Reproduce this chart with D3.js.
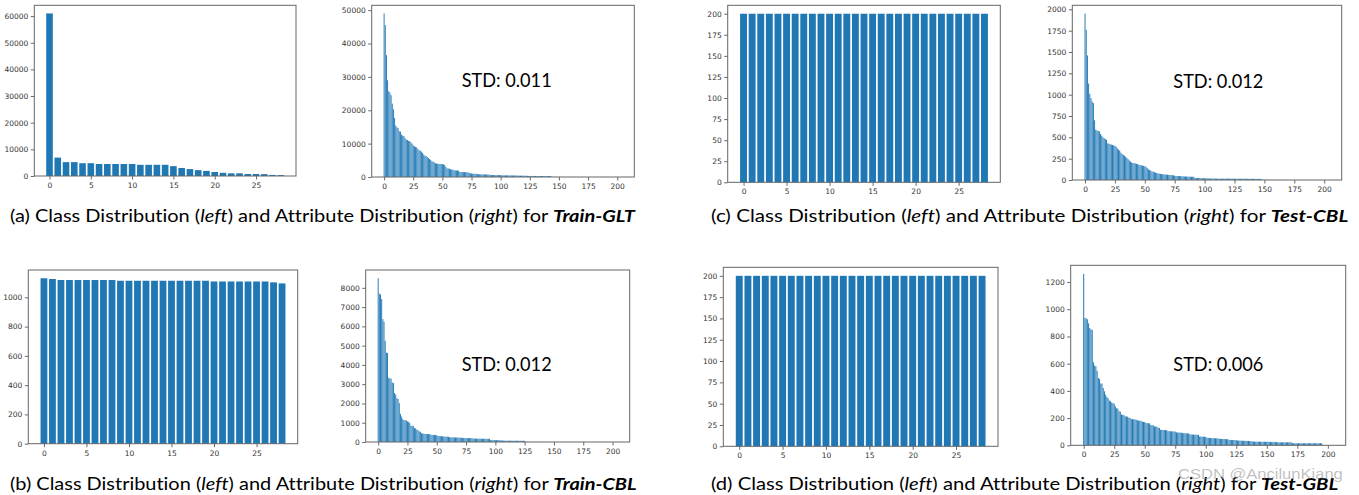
<!DOCTYPE html>
<html><head><meta charset="utf-8">
<script src="https://cdn.jsdelivr.net/npm/d3@7"></script>
<style>body{margin:0;background:#fff}svg{display:block}text{font-variant-ligatures:none;font-feature-settings:"liga" 0,"clig" 0}</style>
</head><body>
<svg id="chart" width="1359" height="495"></svg>
<script>
// ---------------- DATA ----------------
const classTrainGLT = [61000, 6900, 5200, 5200, 4800, 4800, 4500, 4500, 4500, 4500,
  4500, 4200, 4200, 4200, 4200, 3700, 3000, 2600, 2200, 1900,
  1500, 1200, 1000, 1000, 750, 750, 700, 400, 350];
const classTrainCBL = [1130, 1125, 1118, 1118, 1118, 1118, 1118, 1118, 1118, 1113,
  1113, 1113, 1113, 1113, 1113, 1113, 1113, 1113, 1113, 1113,
  1108, 1108, 1108, 1108, 1108, 1108, 1108, 1102, 1095];
const classTestCBL = [200, 200, 200, 200, 200, 200, 200, 200, 200, 200,
  200, 200, 200, 200, 200, 200, 200, 200, 200, 200,
  200, 200, 200, 200, 200, 200, 200, 200, 200];
const classTestGBL = [200, 200, 200, 200, 200, 200, 200, 200, 200, 200,
  200, 200, 200, 200, 200, 200, 200, 200, 200, 200,
  200, 200, 200, 200, 200, 200, 200, 200, 200];

const attrTrainGLT = [
  49000, 45500, 36500, 29000, 25700, 25300, 24500, 22000, 20300, 17700,
  15400, 14900, 14700, 13700, 13600, 12700, 12400, 12300, 11700, 11200,
  11100, 10800, 10700, 10400, 10000, 9500, 9200, 9000, 8900, 8400,
  8000, 7900, 7600, 7200, 6700, 6400, 6300, 6000, 5700, 5400,
  5100, 4700, 4600, 4400, 4100, 4050, 4000, 3900, 3900, 3850,
  3850, 3800, 3600, 3100, 2600, 2550, 2500, 2300, 2250, 2200,
  2000, 2000, 1950, 1950, 1900, 1500, 1500, 1500, 1450, 1450,
  1450, 1400, 1400, 1200, 1150, 1000, 1000, 1000, 950, 950,
  950, 800, 800, 800, 800, 780, 780, 760, 760, 750,
  750, 600, 600, 600, 600, 600, 580, 580, 580, 560,
  560, 500, 500, 500, 500, 500, 480, 480, 480, 480,
  470, 470, 460, 460, 450, 450, 400, 400, 400, 400,
  390, 390, 380, 330, 320, 320, 320, 310, 310, 310,
  310, 300, 300, 300, 300, 300, 290, 290, 290, 290,
  280, 280, 280, 280, 40, 35, 30, 30, 25, 25,
  20, 20, 20, 18, 18, 18, 15, 15, 15, 15,
  12, 12, 12, 10, 10, 10, 10, 8, 8, 8,
  8, 6, 6, 6, 5, 5, 5, 5, 4, 4,
  4, 4, 3, 3, 3, 3, 2, 2, 2, 2,
  2, 2, 1, 1, 1, 1, 1, 1, 1, 0,
  0, 0, 0, 0, 0];
const attrTrainCBL = [
  8500, 7700, 7650, 7420, 6380, 6240, 5250, 4640, 4620, 3330,
  3300, 3290, 3080, 3060, 2540, 2460, 2280, 2230, 2020, 1460,
  1320, 1185, 1140, 1130, 1120, 1070, 1050, 980, 850, 840,
  830, 720, 710, 640, 620, 545, 535, 455, 445, 425,
  420, 420, 415, 410, 410, 375, 370, 370, 365, 360,
  355, 315, 310, 305, 300, 300, 285, 280, 278, 275,
  270, 245, 242, 240, 238, 236, 235, 234, 232, 230,
  228, 212, 210, 210, 208, 206, 205, 204, 203, 202,
  200, 180, 178, 176, 175, 174, 173, 172, 171, 170,
  170, 169, 168, 167, 166, 165, 100, 100, 98, 97,
  96, 95, 94, 93, 92, 90, 72, 71, 70, 70,
  69, 69, 68, 68, 67, 67, 66, 66, 65, 65,
  64, 64, 63, 62, 61, 60, 8, 8, 7, 7,
  6, 6, 6, 5, 5, 5, 5, 4, 4, 4,
  4, 4, 3, 3, 3, 3, 3, 2, 2, 2,
  2, 2, 2, 2, 2, 1, 1, 1, 1, 1,
  1, 1, 1, 1, 1, 1, 1, 1, 1, 1,
  1, 1, 1, 0, 0, 0, 0, 0, 0, 0,
  0, 0, 0, 0, 0, 0, 0, 0, 0, 0,
  0, 0, 0, 0, 0, 0, 0, 0, 0, 0,
  0, 0, 0, 0, 0];
const attrTestCBL = [
  1950, 1760, 1460, 1130, 1010, 960, 920, 900, 700, 590,
  580, 575, 570, 540, 520, 500, 490, 480, 470, 430,
  425, 420, 415, 410, 405, 400, 390, 370, 355, 345,
  320, 305, 295, 285, 273, 260, 245, 230, 215, 205,
  200, 197, 195, 190, 185, 180, 175, 172, 170, 165,
  160, 156, 140, 125, 117, 110, 100, 98, 92, 86,
  82, 78, 75, 72, 70, 68, 66, 65, 64, 62,
  60, 59, 58, 57, 55, 50, 48, 47, 47, 46,
  45, 44, 43, 42, 41, 40, 40, 39, 39, 38,
  38, 38, 25, 24, 23, 23, 22, 22, 21, 21,
  20, 20, 20, 19, 17, 17, 17, 17, 17, 17,
  16, 16, 16, 16, 16, 16, 16, 16, 16, 16,
  16, 16, 16, 16, 16, 15, 15, 15, 15, 15,
  15, 15, 15, 15, 15, 14, 14, 14, 14, 14,
  14, 14, 14, 13, 13, 13, 13, 13, 2, 2,
  2, 2, 2, 2, 1, 1, 1, 1, 1, 1,
  1, 1, 1, 1, 1, 1, 1, 1, 0, 0,
  0, 0, 0, 0, 0, 0, 0, 0, 0, 0,
  0, 0, 0, 0, 0, 0, 0, 0, 0, 0,
  0, 0, 0, 0, 0, 0, 0, 0, 0, 0,
  0, 0, 0, 0, 0];
const attrTestGBL = [
  1260, 936, 934, 926, 897, 862, 852, 848, 611, 586,
  581, 547, 495, 488, 455, 453, 421, 397, 372, 355,
  347, 330, 323, 315, 310, 306, 286, 272, 270, 250,
  248, 226, 224, 222, 213, 212, 210, 203, 201, 193,
  192, 191, 190, 189, 183, 182, 181, 180, 173, 172,
  171, 164, 163, 162, 161, 149, 148, 147, 139, 138,
  137, 129, 128, 114, 113, 113, 112, 112, 111, 104,
  104, 103, 103, 102, 102, 101, 95, 94, 94, 93,
  93, 90, 89, 89, 88, 88, 87, 80, 80, 79,
  79, 78, 78, 77, 77, 65, 64, 64, 63, 63,
  62, 55, 55, 54, 54, 53, 53, 52, 52, 51,
  51, 48, 47, 47, 46, 46, 46, 45, 45, 40,
  40, 39, 39, 38, 38, 38, 35, 35, 34, 34,
  34, 33, 33, 33, 32, 32, 31, 31, 28, 28,
  27, 27, 27, 27, 27, 26, 26, 26, 26, 26,
  26, 26, 25, 25, 25, 25, 25, 24, 24, 22,
  22, 22, 22, 22, 22, 22, 22, 22, 22, 22,
  22, 15, 15, 15, 15, 15, 15, 15, 15, 15,
  15, 15, 15, 15, 15, 15, 15, 15, 15, 15,
  15, 15, 15, 15, 15, 15, 0, 0, 0, 0,
  0, 0, 0, 0, 0];

const yTicksClassTrainGLT = [0, 10000, 20000, 30000, 40000, 50000, 60000];
const yTicksAttrTrainGLT = [0, 10000, 20000, 30000, 40000, 50000];
const yTicksClassTrainCBL = [0, 200, 400, 600, 800, 1000];
const yTicksAttrTrainCBL = [0, 1000, 2000, 3000, 4000, 5000, 6000, 7000, 8000];
const yTicksClassTest = [0, 25, 50, 75, 100, 125, 150, 175, 200];
const yTicksAttrTestCBL = [0, 250, 500, 750, 1000, 1250, 1500, 1750, 2000];
const yTicksAttrTestGBL = [0, 200, 400, 600, 800, 1000, 1200];
const xTicksClass = [0, 5, 10, 15, 20, 25];
const xTicksAttr = [0, 25, 50, 75, 100, 125, 150, 175, 200];

const stdLabels = ["STD: 0.011", "STD: 0.012", "STD: 0.012", "STD: 0.006"];
const captionLetters = ["(a)", "(b)", "(c)", "(d)"];
const captionSets = ["Train-GLT", "Train-CBL", "Test-CBL", "Test-GBL"];
const watermark = "CSDN @AncilunKiang";

// ---------------- LAYOUT ----------------
const svg = d3.select("#chart");
const BAR = "#1f77b4";

const panels = [
  {box:{x0:34.3, x1:296, y0:5.3, y1:176}, data:classTrainGLT, yt:yTicksClassTrainGLT, xt:xTicksClass},
  {box:{x0:371.7, x1:634.3, y0:5.3, y1:177}, data:attrTrainGLT, yt:yTicksAttrTrainGLT, xt:xTicksAttr,
   std:0, stdPos:{x:461.7, y:87.3}},
  {box:{x0:727.7, x1:1000.3, y0:5.3, y1:182.3}, data:classTestCBL, yt:yTicksClassTest, xt:xTicksClass},
  {box:{x0:1072.3, x1:1341.7, y0:5.3, y1:180}, data:attrTestCBL, yt:yTicksAttrTestCBL, xt:xTicksAttr,
   std:2, stdPos:{x:1173.3, y:88.3}},
  {box:{x0:28.3, x1:297.7, y0:270, y1:443.7}, data:classTrainCBL, yt:yTicksClassTrainCBL, xt:xTicksClass},
  {box:{x0:365.7, x1:629.7, y0:270, y1:442}, data:attrTrainCBL, yt:yTicksAttrTrainCBL, xt:xTicksAttr,
   std:1, stdPos:{x:461.7, y:371}},
  {box:{x0:723.3, x1:998, y0:267.3, y1:446.3}, data:classTestGBL, yt:yTicksClassTest, xt:xTicksClass},
  {box:{x0:1070.7, x1:1345.7, y0:265.3, y1:445.3}, data:attrTestGBL, yt:yTicksAttrTestGBL, xt:xTicksAttr,
   std:3, stdPos:{x:1173.3, y:371}}
];

function fitWidth(sel, x, y, w) {
  const bw = sel.node().getBBox().width;
  sel.attr("transform", `translate(${x},${y}) scale(${w / bw},1)`);
}

panels.forEach(p => {
  const b = p.box, n = p.data.length;
  const lo = -0.4, hi = n - 1 + 0.4, m = 0.05 * (hi - lo);
  const x = d3.scaleLinear().domain([lo - m, hi + m]).range([b.x0, b.x1]);
  const y = d3.scaleLinear().domain([0, d3.max(p.data) * 1.05]).range([b.y1, b.y0]);
  const g = svg.append("g");
  g.append("g").selectAll("rect").data(p.data).join("rect")
    .attr("x", (d, i) => x(i - 0.4))
    .attr("width", (d, i) => x(i + 0.4) - x(i - 0.4))
    .attr("y", d => y(d))
    .attr("height", d => y(0) - y(d))
    .attr("fill", BAR);

  const gx = g.append("g").attr("transform", `translate(0,${b.y1})`)
    .call(d3.axisBottom(x).tickValues(p.xt).tickSize(3.5).tickPadding(3).tickFormat(d3.format("d")));
  const gy = g.append("g").attr("transform", `translate(${b.x0},0)`)
    .call(d3.axisLeft(y).tickValues(p.yt).tickSize(3.5).tickPadding(2.5).tickFormat(d3.format("d")));
  [gx, gy].forEach(a => {
    a.select(".domain").remove();
    a.selectAll(".tick line").attr("stroke", "#444").attr("stroke-width", 0.8);
    a.selectAll(".tick text").attr("font-family", "DejaVu Sans").attr("font-size", 7.5).attr("fill", "#333");
  });
  g.append("rect").attr("x", b.x0).attr("y", b.y0)
    .attr("width", b.x1 - b.x0).attr("height", b.y1 - b.y0)
    .attr("fill", "none").attr("stroke", "#666").attr("stroke-width", 1);

  if (p.std !== undefined) {
    const t = g.append("text").attr("font-family", "Lato, 'Open Sans', sans-serif")
      .attr("font-size", 18.5).attr("fill", "#000").text(stdLabels[p.std]);
    fitWidth(t, p.stdPos.x, p.stdPos.y, 90);
  }
});

// captions
const capPos = [
  {x:10, y:222, w:627}, {x:10, y:490, w:627},
  {x:711, y:222, w:638}, {x:711, y:490, w:628}
];
captionLetters.forEach((L, i) => {
  const t = svg.append("text").attr("font-family", "Lato, 'Open Sans', sans-serif")
    .attr("font-size", 17.5).attr("fill", "#000");
  t.append("tspan").text(L + " Class Distribution (");
  t.append("tspan").attr("font-style", "italic").text("left");
  t.append("tspan").text(") and Attribute Distribution (");
  t.append("tspan").attr("font-style", "italic").text("right");
  t.append("tspan").text(") for ");
  t.append("tspan").attr("font-style", "italic").attr("font-weight", "bold").text(captionSets[i]);
  fitWidth(t, capPos[i].x, capPos[i].y, capPos[i].w);
});

// watermark (overlaps caption (d) as in the reference)
const wm = svg.append("text").attr("font-family", "Liberation Sans, Arial, sans-serif")
  .attr("font-size", 15).attr("fill", "rgba(140,140,140,0.55)").text(watermark);
fitWidth(wm, 1178, 479, 165);
</script>
</body></html>
